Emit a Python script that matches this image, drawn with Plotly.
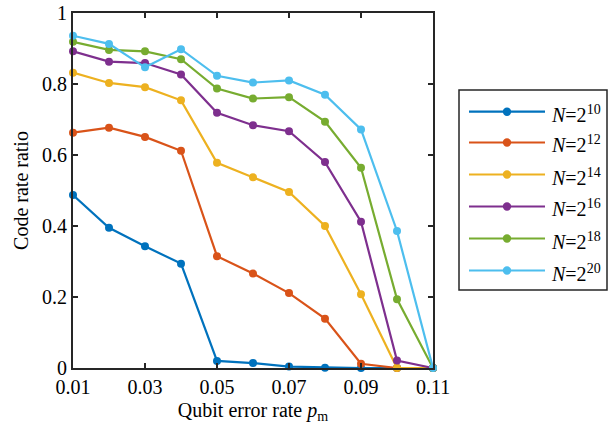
import plotly.graph_objects as go

x_vals = [0.01, 0.02, 0.03, 0.04, 0.05, 0.06, 0.07, 0.08, 0.09, 0.10, 0.11]
n10 = [0.487, 0.395, 0.343, 0.294, 0.020, 0.014, 0.004, 0.001, 0.0, 0.0, 0.0]
n12 = [0.663, 0.677, 0.651, 0.612, 0.315, 0.266, 0.211, 0.139, 0.012, 0.0, 0.0]
n14 = [0.832, 0.803, 0.791, 0.754, 0.578, 0.537, 0.496, 0.400, 0.208, 0.0, 0.0]
n16 = [0.892, 0.863, 0.859, 0.827, 0.719, 0.684, 0.667, 0.580, 0.412, 0.021, 0.0]
n18 = [0.919, 0.896, 0.892, 0.870, 0.787, 0.759, 0.763, 0.694, 0.564, 0.194, 0.0]
n20 = [0.936, 0.913, 0.847, 0.898, 0.823, 0.804, 0.810, 0.770, 0.672, 0.386, 0.0]

series = [n10, n12, n14, n16, n18, n20]
names = ["<i>N</i>=2<sup>10</sup>", "<i>N</i>=2<sup>12</sup>", "<i>N</i>=2<sup>14</sup>",
         "<i>N</i>=2<sup>16</sup>", "<i>N</i>=2<sup>18</sup>", "<i>N</i>=2<sup>20</sup>"]
colors = ["#0072BD", "#D95319", "#EDB120", "#7E2F8E", "#77AC30", "#4DBEEE"]

x_ticks = [0.01, 0.03, 0.05, 0.07, 0.09, 0.11]
x_ticklabels = ["0.01", "0.03", "0.05", "0.07", "0.09", "0.11"]
y_ticks = [0, 0.2, 0.4, 0.6, 0.8, 1]
y_ticklabels = ["0", "0.2", "0.4", "0.6", "0.8", "1"]

# layout geometry in page pixels (body margin removed below)
W, H = 609, 441
ML, MR, MT, MB = 73, 176, 13, 73
PW = W - ML - MR
PH = H - MT - MB


def px_x(p):
    return (p - ML) / PW


def px_y(p):
    return (H - MB - p) / PH


fig = go.Figure()
for ys, nm, c in zip(series, names, colors):
    fig.add_trace(go.Scatter(x=x_vals, y=ys, name=nm, mode="lines+markers",
                             line=dict(color=c, width=2.2),
                             marker=dict(color=c, size=8),
                             cliponaxis=False, showlegend=False))

# hand-drawn legend box (MATLAB style)
shapes = [dict(type="rect", xref="paper", yref="paper",
               x0=px_x(459), x1=px_x(607), y0=px_y(290), y1=px_y(90),
               line=dict(color="#262626", width=1.5), fillcolor="white", layer="above")]
annotations = []
row_y = [111.7, 142.5, 174.5, 206.5, 238.5, 270.5]
for ry, nm, c in zip(row_y, names, colors):
    shapes.append(dict(type="line", xref="paper", yref="paper",
                       x0=px_x(469), x1=px_x(545), y0=px_y(ry), y1=px_y(ry),
                       line=dict(color=c, width=2.2), layer="above"))
    shapes.append(dict(type="circle", xref="paper", yref="paper",
                       xsizemode="pixel", ysizemode="pixel",
                       xanchor=px_x(507), yanchor=px_y(ry),
                       x0=-4.2, x1=4.2, y0=-4.2, y1=4.2,
                       line=dict(color=c, width=0), fillcolor=c, layer="above"))
    annotations.append(dict(xref="paper", yref="paper", x=px_x(549), y=px_y(ry + 2),
                            xanchor="left", yanchor="middle", text=nm, showarrow=False,
                            font=dict(size=20, color="#000000")))

font_family = "Liberation Serif, Times New Roman, serif"
fig.update_layout(
    width=W, height=H,
    margin=dict(l=ML, r=MR, t=MT, b=MB),
    paper_bgcolor="white", plot_bgcolor="white",
    font=dict(family=font_family, size=20, color="#262626"),
    showlegend=False,
    hovermode=False,
    shapes=shapes,
    annotations=annotations,
    xaxis=dict(range=[0.01, 0.11], tickvals=x_ticks, ticktext=x_ticklabels,
               ticks="inside", ticklen=5, tickwidth=1.5, tickcolor="#262626",
               showline=True, linecolor="#262626", linewidth=2, mirror="ticks",
               showgrid=False, zeroline=False, automargin=False,
               ticklabeloverflow="allow",
               tickfont=dict(size=20, color="#000000"),
               title=dict(text="Qubit error rate <i>p</i><sub>m</sub>", standoff=6,
                          font=dict(size=20, color="#000000"))),
    yaxis=dict(range=[0, 1], tickvals=y_ticks, ticktext=y_ticklabels,
               ticks="inside", ticklen=5, tickwidth=1.5, tickcolor="#262626",
               showline=True, linecolor="#262626", linewidth=2, mirror="ticks",
               showgrid=False, zeroline=False, automargin=False,
               ticklabeloverflow="allow",
               tickfont=dict(size=20, color="#000000"),
               title=dict(text="Code rate ratio", standoff=8,
                          font=dict(size=20, color="#000000"))),
)

fig.write_html("out.html", config={"displayModeBar": False},
               post_script="document.body.style.margin='0';document.body.style.overflow='hidden';")
